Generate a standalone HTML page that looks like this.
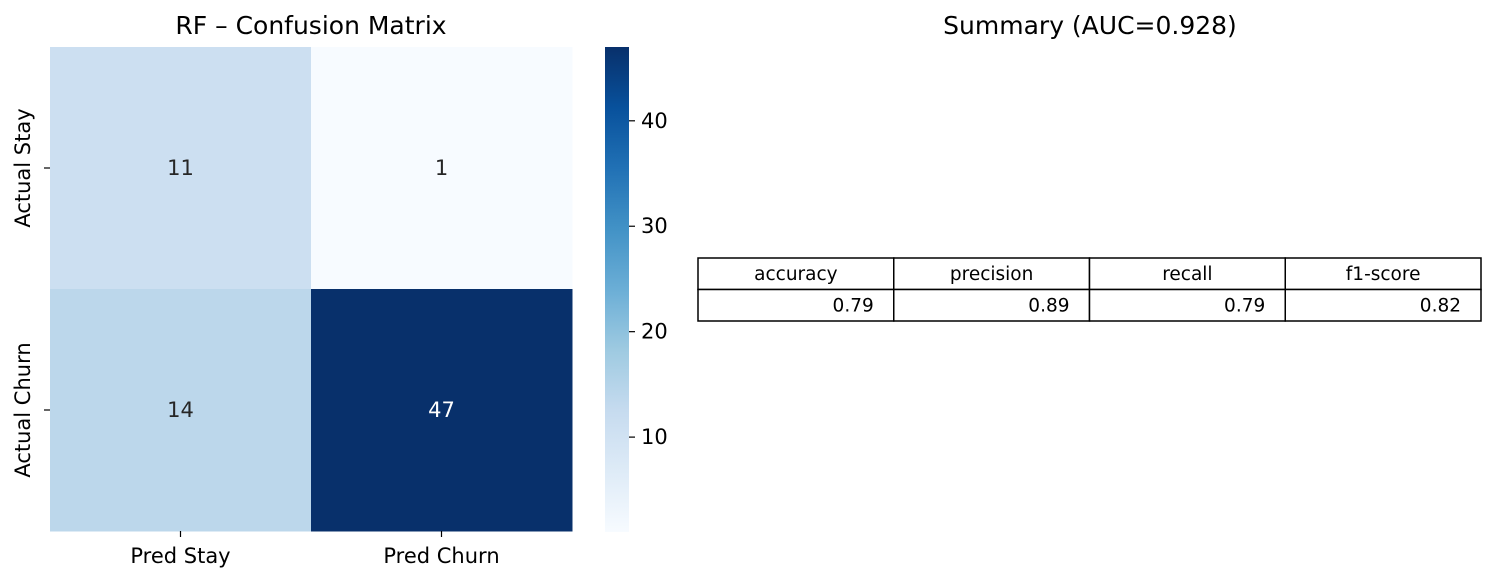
<!DOCTYPE html>
<html><head><meta charset="utf-8"><style>
body{margin:0;background:#fff;}
svg{display:block;font-family:"DejaVu Sans","Liberation Sans",sans-serif;}
</style></head><body>
<svg id="chart" width="1496" height="582" viewBox="0 0 1496 582">
<defs>
<linearGradient id="cbgrad" x1="0" y1="1" x2="0" y2="0">
<stop offset="0" stop-color="#f7fbff"/><stop offset="0.125" stop-color="#deebf7"/><stop offset="0.25" stop-color="#c6dbef"/><stop offset="0.375" stop-color="#9ecae1"/><stop offset="0.5" stop-color="#6baed6"/><stop offset="0.625" stop-color="#4292c6"/><stop offset="0.75" stop-color="#2171b5"/><stop offset="0.875" stop-color="#08519c"/><stop offset="1" stop-color="#08306b"/>
</linearGradient>
</defs>
<text x="311" y="34" font-size="25" text-anchor="middle" fill="#000">RF – Confusion Matrix</text>
<g id="cells"></g>
<g id="axes"></g>
<rect x="605" y="47" width="24" height="485" fill="url(#cbgrad)"/>
<g id="cbticks"></g>
<text x="1090" y="34" font-size="25" text-anchor="middle" fill="#000">Summary (AUC=0.928)</text>
<g id="table"></g>
</svg>
<script>
const rowLabels=["Actual Stay","Actual Churn"];
const colLabels=["Pred Stay","Pred Churn"];
const matrix=[[11,1],[14,47]];
const cbTicks=[10,20,30,40];
const metricNames=["accuracy","precision","recall","f1-score"];
const metricValues=["0.79","0.89","0.79","0.82"];
const NS="http://www.w3.org/2000/svg";
function mk(t,a,p){const e=document.createElementNS(NS,t);for(const k in a)e.setAttribute(k,a[k]);p.appendChild(e);return e;}
const stops=[[247,251,255],[222,235,247],[198,219,239],[158,202,225],[107,174,214],[66,146,198],[33,113,181],[8,81,156],[8,48,107]];
const vals=matrix.flat();const vmin=Math.min(...vals),vmax=Math.max(...vals);
function color(v){let t=(v-vmin)/(vmax-vmin)*8;let i=Math.min(7,Math.floor(t));let f=t-i;const a=stops[i],b=stops[i+1];return `rgb(${a.map((c,j)=>Math.round(c+(b[j]-c)*f)).join(',')})`;}
const X0=50,X1=572,Y0=47,Y1=531;
const cw=(X1-X0)/colLabels.length,ch=(Y1-Y0)/rowLabels.length;
const cells=document.getElementById('cells'),axes=document.getElementById('axes');
matrix.forEach((row,r)=>row.forEach((v,c)=>{
 const rc=mk('rect',{x:X0+c*cw,y:Y0+r*ch,width:cw+0.5,height:ch+0.5,fill:color(v)},cells);
 
 
 const tx=mk('text',{x:X0+(c+.5)*cw,y:Y0+(r+.5)*ch+7,'font-size':21,'text-anchor':'middle',fill:(v-vmin)/(vmax-vmin)>0.5?'#fff':'#262626'},cells);
 tx.textContent=v;
 
 
}));
colLabels.forEach((l,c)=>{const x=X0+(c+.5)*cw;
 mk('line',{x1:x,x2:x,y1:Y1,y2:Y1+6,stroke:'#000','stroke-width':1.2},axes);
 const t=mk('text',{x:x,y:Y1+32,'font-size':21,'text-anchor':'middle'},axes);t.textContent=l;
 
 });
rowLabels.forEach((l,r)=>{const y=Y0+(r+.5)*ch;
 mk('line',{x1:X0-6,x2:X0,y1:y,y2:y,stroke:'#000','stroke-width':1.2},axes);
 const t=mk('text',{x:0,y:0,'font-size':21,'text-anchor':'middle',transform:`translate(30,${y}) rotate(-90)`},axes);t.textContent=l;
 
 });
const cbt=document.getElementById('cbticks');
const cbY=v=>532-(v-vmin)/(vmax-vmin)*485;
cbTicks.forEach(v=>{const y=cbY(v);
 mk('line',{x1:629,x2:635,y1:y,y2:y,stroke:'#000','stroke-width':1.2},cbt);
 const t=mk('text',{x:641,y:y+7,'font-size':21},cbt);t.textContent=v;
 
 });
const tb=document.getElementById('table');const TX=698,TW=783/metricNames.length,TY=258,RH=31.5;
metricNames.forEach((n,i)=>{const x=TX+i*TW;
 mk('rect',{x:x,y:TY,width:TW,height:RH,fill:'#fff',stroke:'#000','stroke-width':1.5},tb);
 mk('rect',{x:x,y:TY+RH,width:TW,height:RH,fill:'#fff',stroke:'#000','stroke-width':1.5},tb);
 const h=mk('text',{x:x+TW/2,y:TY+22,'font-size':18.5,'text-anchor':'middle'},tb);h.textContent=n;
 
 
 const v=mk('text',{x:x+TW-20,y:TY+RH+22,'font-size':18.5,'text-anchor':'end'},tb);v.textContent=metricValues[i];
 
 });
</script>
</body></html>
